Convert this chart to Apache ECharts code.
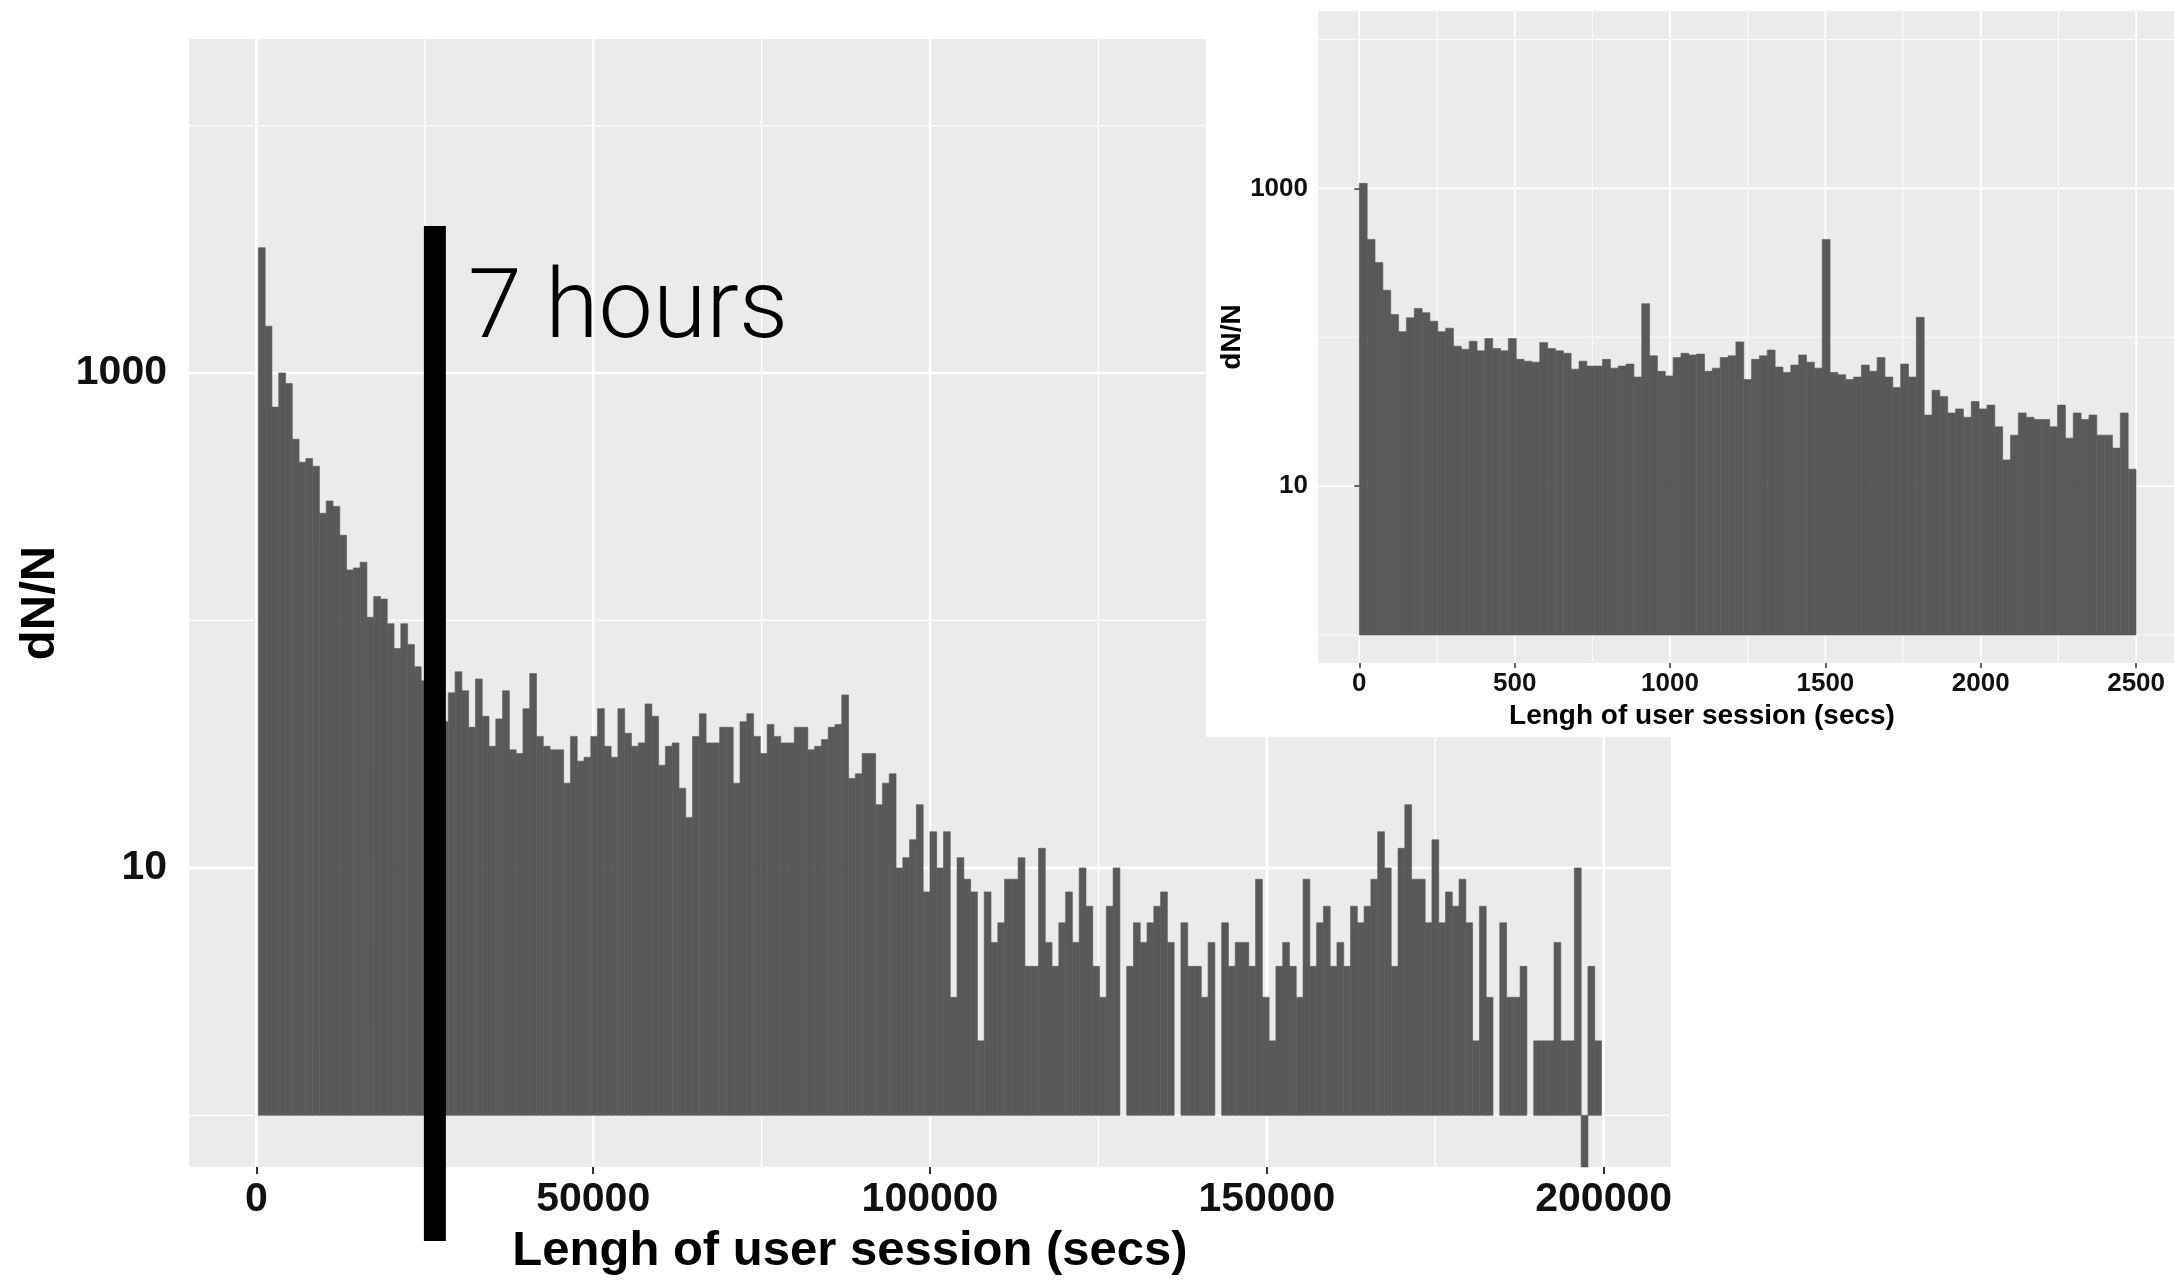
<!DOCTYPE html>
<html>
<head>
<meta charset="utf-8">
<title>Lengh of user session</title>
<script src="https://cdn.jsdelivr.net/npm/echarts@6/dist/echarts.min.js"></script>
<style>
    html, body { margin: 0; padding: 0; background: #fff; }
    #chart { width: 2174px; height: 1281px; }
</style>
</head>
<body>
<div id="chart"></div>
<script>
    // main histogram, counts per bin of session length (secs)
    const mainCounts = [
        3210, 1546, 728, 1000, 906, 540, 436, 451, 420, 271,
        304, 289, 221, 160, 163, 172, 103, 125, 122, 97,
        77, 97, 80, 65, 57, 50, 45, 39, 51, 62,
        52, 37, 58, 41, 31, 40, 52, 30, 29, 44,
        61, 34, 31, 30, 30, 22, 34, 27, 28, 34,
        44, 31, 28, 44, 35, 31, 32, 46, 41, 26,
        31, 32, 21, 16, 34, 42, 32, 32, 37, 37,
        22, 39, 42, 34, 29, 38, 34, 32, 32, 37,
        37, 30, 31, 33, 37, 38, 50, 23, 24, 29,
        29, 18, 22, 24, 10, 11, 13, 18, 8, 14,
        10, 14, 3, 11, 9, 8, 2, 8, 5, 6,
        9, 9, 11, 4, 4, 12, 5, 4, 6, 8,
        5, 10, 7, 4, 3, 7, 10, 0, 4, 6,
        5, 6, 7, 8, 5, 0, 6, 4, 4, 3,
        5, 0, 6, 4, 5, 5, 4, 9, 3, 2,
        4, 5, 4, 3, 9, 4, 6, 7, 4, 5,
        4, 7, 6, 7, 9, 14, 10, 4, 12, 18,
        9, 9, 6, 13, 6, 8, 7, 9, 6, 2,
        7, 3, 0, 6, 3, 3, 4, 0, 2, 2,
        2, 5, 2, 2, 10, 0.5, 4, 2
    ];
    const mainBinStart = 300;
    const mainBinWidth = 1007;
    const mainXTicks = [0, 50000, 100000, 150000, 200000];
    const mainXMinor = [25000, 75000, 125000, 175000];

    // inset: the first 2500 secs
    const insetCounts = [
        1080, 454, 317, 207, 142, 109, 135, 156, 146, 128,
        109, 115, 87, 83, 94, 81, 98, 84, 81, 98,
        71, 69, 68, 92, 84, 81, 78, 61, 69, 64,
        64, 71, 62, 64, 66, 54, 168, 75, 59, 55,
        73, 78, 76, 77, 59, 62, 73, 75, 93, 52,
        71, 75, 82, 63, 58, 65, 76, 68, 62, 454,
        58, 56, 52, 54, 65, 59, 73, 54, 46, 66,
        54, 136, 30, 44, 40, 31, 33, 29, 37, 33,
        35, 25, 15, 22, 31, 29, 28, 28, 25, 35,
        21, 31, 28, 30, 22, 22, 18, 31, 13
    ];
    const insetBinStart = 0;
    const insetBinWidth = 25.25;
    const insetXTicks = [0, 500, 1000, 1500, 2000, 2500];
    const insetXMinor = [250, 750, 1250, 1750, 2250];

    const yTicks = [10, 1000];
    const yMinor = [1, 100, 10000];

    const sevenHoursMark = 26500;   // where the black marker was drawn

    const BAR = '#595959';
    const PANEL = '#ebebeb';
    const FONT = '"Liberation Sans", Arial, Helvetica, sans-serif';

    function toBins(counts, start, width) {
        return counts.map(function (c, i) {
            return [start + i * width, start + (i + 1) * width, c];
        });
    }

    // [x, y, major, horizontal]
    function toGridLines(xMajor, xMinor, yMajor, yMinor) {
        let out = [];
        xMajor.forEach(v => out.push([v, 10, 1, 0]));
        xMinor.forEach(v => out.push([v, 10, 0, 0]));
        yMajor.forEach(v => out.push([0, v, 1, 1]));
        yMinor.forEach(v => out.push([0, v, 0, 1]));
        return out;
    }

    function renderBar(params, api) {
        let v = api.value(2);
        if (!(v > 0)) return null;
        let a = api.coord([api.value(0), 1]);
        let b = api.coord([api.value(1), v]);
        let cs = params.coordSys;
        let rect = echarts.graphic.clipRectByRect({
            x: a[0],
            y: Math.min(a[1], b[1]),
            width: b[0] - a[0],
            height: Math.abs(b[1] - a[1])
        }, {x: cs.x, y: cs.y, width: cs.width, height: cs.height});
        if (!rect) return null;
        return {
            type: 'rect',
            shape: rect,
            style: {fill: BAR, stroke: BAR, lineWidth: 0.6}
        };
    }

    function gridLineRenderer(majorWidth, minorWidth) {
        return function (params, api) {
            let p = api.coord([api.value(0), api.value(1)]);
            let cs = params.coordSys;
            let horizontal = api.value(3) === 1;
            let shape = horizontal
                ? {x1: cs.x, y1: p[1], x2: cs.x + cs.width, y2: p[1]}
                : {x1: p[0], y1: cs.y, x2: p[0], y2: cs.y + cs.height};
            return {
                type: 'line',
                shape: shape,
                style: {stroke: '#ffffff', lineWidth: api.value(2) ? majorWidth : minorWidth}
            };
        };
    }

    function plainNumber(v) {
        return String(Math.round(v));
    }

    let chart = echarts.init(document.getElementById('chart'));

    let option = {
        animation: false,
        backgroundColor: '#ffffff',
        textStyle: {fontFamily: FONT},
        grid: [
            {left: 189, top: 39, width: 1482, height: 1130, show: true,
                backgroundColor: PANEL, borderWidth: 0, z: 0},
            {left: 1318, top: 11, width: 856, height: 652, show: true,
                backgroundColor: PANEL, borderWidth: 0, z: 21}
        ],
        xAxis: [
            {
                gridIndex: 0,
                type: 'value',
                min: -10000,
                max: 210000,
                axisLine: {show: false},
                axisTick: {show: true, customValues: mainXTicks, length: 7,
                    lineStyle: {color: '#333', width: 2}},
                axisLabel: {customValues: mainXTicks, formatter: plainNumber, margin: 12,
                    fontSize: 41, fontWeight: 'bold', color: '#111', fontFamily: FONT},
                splitLine: {show: false},
                name: 'Lengh of user session (secs)',
                nameLocation: 'middle',
                nameGap: 60,
                nameTextStyle: {fontSize: 49, fontWeight: 'bold', color: '#000', fontFamily: FONT,
                    padding: [0, 160, 0, 0]}
            },
            {
                gridIndex: 1,
                type: 'value',
                min: -133,
                max: 2622,
                z: 24,
                axisLine: {show: false},
                axisTick: {show: true, customValues: insetXTicks, length: 5,
                    lineStyle: {color: '#333', width: 1.5}},
                axisLabel: {customValues: insetXTicks, formatter: plainNumber, margin: 8,
                    fontSize: 26, fontWeight: 'bold', color: '#111', fontFamily: FONT},
                splitLine: {show: false},
                name: 'Lengh of user session (secs)',
                nameLocation: 'middle',
                nameGap: 34,
                nameTextStyle: {fontSize: 28, fontWeight: 'bold', color: '#000', fontFamily: FONT,
                    padding: [0, 88, 0, 0]}
            }
        ],
        yAxis: [
            {
                gridIndex: 0,
                type: 'log',
                logBase: 10,
                min: 0.6184,
                max: 22374,
                axisLine: {show: false},
                axisTick: {show: true, customValues: yTicks, length: 7,
                    lineStyle: {color: '#333', width: 2}},
                axisLabel: {customValues: yTicks, formatter: plainNumber, margin: 22,
                    fontSize: 41, fontWeight: 'bold', color: '#111', fontFamily: FONT},
                splitLine: {show: false},
                minorTick: {show: false},
                minorSplitLine: {show: false},
                name: 'dN/N',
                nameLocation: 'middle',
                nameRotate: 90,
                nameGap: 112,
                nameTextStyle: {fontSize: 49, fontWeight: 'bold', color: '#000', fontFamily: FONT}
            },
            {
                gridIndex: 1,
                type: 'log',
                logBase: 10,
                min: 0.6486,
                max: 15524,
                z: 24,
                axisLine: {show: false},
                axisTick: {show: true, customValues: yTicks, length: 5,
                    lineStyle: {color: '#333', width: 1.5}},
                axisLabel: {customValues: yTicks, formatter: plainNumber, margin: 10,
                    fontSize: 26, fontWeight: 'bold', color: '#111', fontFamily: FONT},
                splitLine: {show: false},
                minorTick: {show: false},
                minorSplitLine: {show: false},
                name: 'dN/N',
                nameLocation: 'middle',
                nameRotate: 90,
                nameGap: 68,
                nameTextStyle: {fontSize: 28, fontWeight: 'bold', color: '#000', fontFamily: FONT}
            }
        ],
        series: [
            {
                type: 'custom',
                name: 'main-grid',
                xAxisIndex: 0,
                yAxisIndex: 0,
                z: 1,
                silent: true,
                encode: {x: 0, y: 1},
                renderItem: gridLineRenderer(2.6, 1.3),
                data: toGridLines(mainXTicks, mainXMinor, yTicks, yMinor)
            },
            {
                type: 'custom',
                name: 'main',
                xAxisIndex: 0,
                yAxisIndex: 0,
                z: 10,
                silent: true,
                encode: {x: [0, 1], y: 2},
                renderItem: renderBar,
                data: toBins(mainCounts, mainBinStart, mainBinWidth)
            },
            {
                type: 'custom',
                name: 'inset-grid',
                xAxisIndex: 1,
                yAxisIndex: 1,
                z: 22,
                silent: true,
                encode: {x: 0, y: 1},
                renderItem: gridLineRenderer(1.7, 0.9),
                data: toGridLines(insetXTicks, insetXMinor, yTicks, yMinor)
            },
            {
                type: 'custom',
                name: 'inset',
                xAxisIndex: 1,
                yAxisIndex: 1,
                z: 23,
                silent: true,
                encode: {x: [0, 1], y: 2},
                renderItem: renderBar,
                data: toBins(insetCounts, insetBinStart, insetBinWidth)
            }
        ]
    };
    chart.setOption(option);

    // white card behind the inset, and the 7 hours marker
    let markX = chart.convertToPixel({xAxisIndex: 0}, sevenHoursMark);
    chart.setOption({
        graphic: [
            {
                type: 'rect',
                id: 'insetCard',
                z: 20,
                silent: true,
                shape: {x: 1206, y: 0, width: 968, height: 737},
                style: {fill: '#ffffff'}
            },
            {
                type: 'rect',
                id: 'markLine',
                z: 30,
                silent: true,
                shape: {x: markX - 11, y: 226, width: 22, height: 1015},
                style: {fill: '#000000'}
            },
            {
                type: 'text',
                id: 'markText',
                z: 30,
                silent: true,
                x: markX + 33,
                y: 313,
                style: {
                    text: '7 hours',
                    fill: '#000000',
                    fontSize: 97,
                    fontWeight: 300,
                    fontFamily: 'Roboto, "Open Sans", sans-serif',
                    align: 'left',
                    verticalAlign: 'middle',
                    textAlign: 'left',
                    textVerticalAlign: 'middle'
                }
            }
        ]
    });
</script>
</body>
</html>
